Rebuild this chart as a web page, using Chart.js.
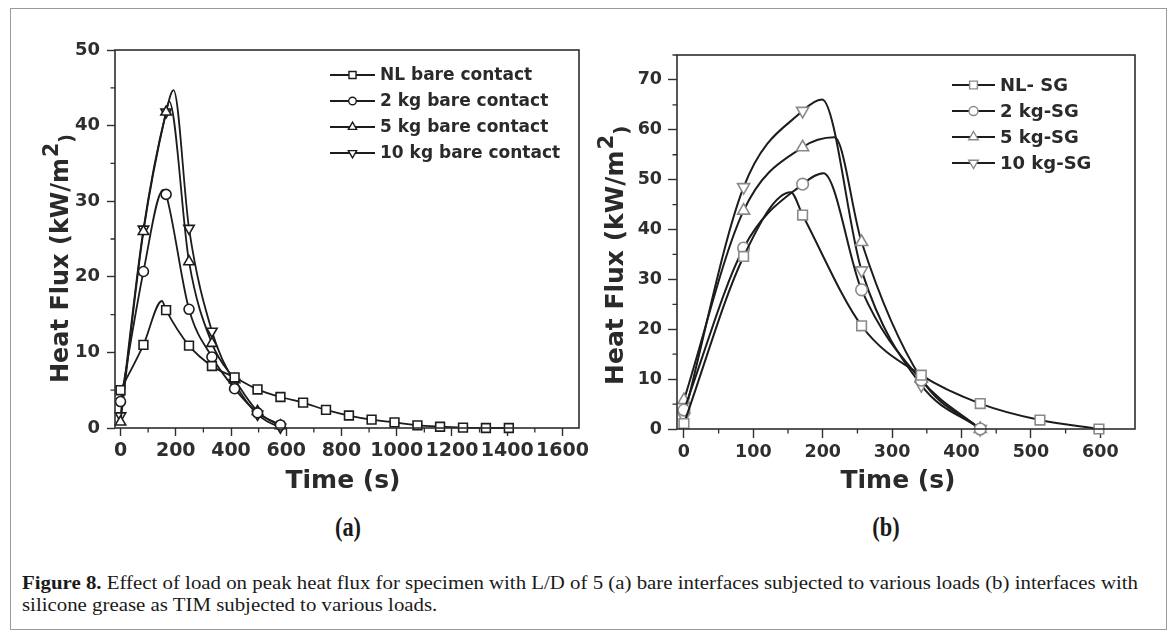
<!DOCTYPE html>
<html><head><meta charset="utf-8">
<script src="https://cdn.jsdelivr.net/npm/chart.js@4.4.0/dist/chart.umd.min.js"></script>
<style>
html,body{margin:0;padding:0;background:#fff;overflow:hidden;}
#fig{position:relative;width:1173px;height:636px;overflow:hidden;background:#fff;}
#frame{position:absolute;left:10px;top:8px;width:1157px;height:622px;border:1px solid #9a9a9a;box-sizing:border-box;pointer-events:none;}
#ca{position:absolute;left:0;top:0;}
#cb{position:absolute;left:590px;top:0;}
.plab{position:absolute;top:511px;width:80px;text-align:center;font-family:"Liberation Serif",serif;font-weight:bold;font-size:28px;line-height:32px;color:#1a1a1a;transform:scaleX(0.8);}
.cap{position:absolute;left:22px;white-space:nowrap;font-family:"Liberation Serif",serif;font-size:19px;line-height:22px;color:#1a1a1a;transform-origin:0 50%;}
</style>
</head><body>
<div id="fig">
<canvas id="ca" width="600" height="510"></canvas>
<canvas id="cb" width="575" height="510"></canvas>
<div class="plab" style="left:308px">(a)</div>
<div class="plab" style="left:846px">(b)</div>
<div class="cap" id="cap1" style="top:572px"><b>Figure 8.</b> Effect of load on peak heat flux for specimen with L/D of 5 (a) bare interfaces subjected to various loads (b) interfaces with</div>
<div class="cap" id="cap2" style="top:594px">silicone grease as TIM subjected to various loads.</div>
<div id="frame"></div>
</div>
<script>
// ---------- Panel (a): bare contact ----------
const timeA = [0,83,165,248,331,413,496,579,661,744,827,909,992,1075,1157,1240,1323,1406];
const nlBare  = [5.0,11.0,15.6,10.9,8.2,6.7,5.1,4.1,3.35,2.4,1.65,1.1,0.75,0.35,0.17,0.05,0,0];
const kg2Bare = [3.5,20.7,30.9,15.7,9.4,5.2,2.0,0.4];
const kg5Bare = [0.8,26.0,41.8,22.0,11.2,6.4,2.2,0.3];
const kg10Bare= [1.6,26.3,41.8,26.4,12.8,6.0,1.8,0.1];
// unmarked points read on the curves (peaks, line ends)
const nlBareExtra  = [[150,16.8]];
const kg2BareExtra = [[155,31.5],[600,0]];
const kg5BareExtra = [[176,43.2],[600,0]];
const kg10BareExtra= [[192,44.7],[592,0]];
const labelsA = ["NL bare contact","2 kg bare contact","5 kg bare contact","10 kg bare contact"];
const xTicksA = [0,200,400,600,800,1000,1200,1400,1600];
const xMinorA = [100,300,500,700,900,1100,1300,1500];
const yTicksA = [0,10,20,30,40,50];
const yMinorA = [5,15,25,35,45];

// ---------- Panel (b): silicone grease ----------
const timeB = [0,86,171,256,342,427,513,598];
const nlSG   = [1.1,34.6,42.9,20.7,10.8,5.1,1.8,0];
const kg2SG  = [3.8,36.3,49.1,27.9,9.8,0];
const kg5SG  = [5.8,43.8,56.5,37.5,10.1,0];
const kg10SG = [2.5,48.5,63.8,31.8,8.8,0];
const nlSGExtra   = [[154,47.5]];
const kg2SGExtra  = [[201,51.3]];
const kg5SGExtra  = [[217,58.5]];
const kg10SGExtra = [[199,66.1]];
const labelsB = ["NL- SG","2 kg-SG","5 kg-SG","10 kg-SG"];
const xTicksB = [0,100,200,300,400,500,600];
const xMinorB = [50,150,250,350,450,550];
const yTicksB = [0,10,20,30,40,50,60,70];
const yMinorB = [5,15,25,35,45,55,65,75];

function build(times, vals, extra){
  const pts = vals.map((v,i)=>({x:times[i], y:v, m:true}));
  extra.forEach(e=>pts.push({x:e[0], y:e[1], m:false}));
  pts.sort((a,b)=>a.x-b.x);
  return pts;
}
const styles = [
  {ps:'rect', rot:0},
  {ps:'circle', rot:0},
  {ps:'triangle', rot:0},
  {ps:'triangle', rot:180}
];
const radA = [6.2,5,6,6];
const radB = [6.8,5.8,7,7];

function mkDatasets(series, labels, rad, mColor, lw){
  return series.map((s,i)=>({
    label: labels[i],
    data: s,
    borderColor:'#1c1c1c',
    borderWidth: lw,
    cubicInterpolationMode:'monotone',
    fill:false,
    clip:false,
    pointStyle: styles[i].ps,
    pointRotation: styles[i].rot,
    pointRadius: c => (c.raw && c.raw.m) ? rad[i] : 0,
    pointBorderColor: mColor,
    pointBackgroundColor:'#ffffff',
    pointBorderWidth: 1.6
  }));
}

const decor = {
  id:'decor',
  afterDraw(chart, args, o){
    const ctx = chart.ctx, ca = chart.chartArea;
    const xs = chart.scales.x, ys = chart.scales.y;
    ctx.save();
    ctx.strokeStyle = '#2e2e2e'; ctx.lineWidth = 1.6;
    ctx.strokeRect(ca.left, ca.top, ca.right-ca.left, ca.bottom-ca.top);
    ctx.lineWidth = 1.3; ctx.beginPath();
    o.xMinor.forEach(v=>{const p=xs.getPixelForValue(v); ctx.moveTo(p,ca.bottom); ctx.lineTo(p,ca.bottom+4.5);});
    o.yMinor.forEach(v=>{const p=ys.getPixelForValue(v); ctx.moveTo(ca.left,p); ctx.lineTo(ca.left-4.5,p);});
    ctx.stroke();
    // y title
    const yt = o.yTitle;
    ctx.fillStyle = '#2a2a2a';
    ctx.translate(yt.x, yt.y); ctx.rotate(-Math.PI/2);
    ctx.textAlign='left'; ctx.textBaseline='alphabetic';
    ctx.font = 'bold '+yt.size+'px "DejaVu Sans"';
    const main = 'Heat Flux (kW/m';
    ctx.fillText(main,0,0);
    let w = ctx.measureText(main).width;
    ctx.font = 'bold '+(yt.size*0.85)+'px "DejaVu Sans"';
    ctx.fillText('2', w+1, -yt.size*0.42);
    w += ctx.measureText('2').width+1;
    ctx.font = 'bold '+(yt.size*0.8)+'px "DejaVu Sans"';
    ctx.fillText(')', w, yt.size*0.2);
    ctx.setTransform(1,0,0,1,0,0);
    // x title
    const xt = o.xTitle;
    ctx.font = 'bold '+xt.size+'px "DejaVu Sans"';
    ctx.textAlign='center'; ctx.textBaseline='alphabetic';
    ctx.fillText('Time (s)', xt.x, xt.y);
    // legend
    const lg = o.legend;
    chart.data.datasets.forEach((ds,i)=>{
      const y = lg.y + i*lg.row;
      ctx.strokeStyle='#1c1c1c'; ctx.lineWidth=1.8;
      ctx.beginPath(); ctx.moveTo(lg.x0,y); ctx.lineTo(lg.x1,y); ctx.stroke();
      ctx.fillStyle='#ffffff'; ctx.strokeStyle=lg.mColor; ctx.lineWidth=1.4;
      Chart.helpers.drawPoint(ctx,{pointStyle:styles[i].ps, rotation:styles[i].rot, radius:lg.r[i], borderWidth:1.4},(lg.x0+lg.x1)/2,y);
      ctx.fillStyle='#2a2a2a';
      ctx.font='bold '+lg.size+'px "DejaVu Sans"';
      ctx.textAlign='left'; ctx.textBaseline='middle';
      ctx.fillText(ds.label, lg.tx, y+1);
    });
    ctx.restore();
  }
};

function mkChart(id, datasets, cfg){
  return new Chart(document.getElementById(id), {
    type:'line',
    data:{datasets},
    plugins:[decor],
    options:{
      responsive:false, animation:false, events:[],
      layout:{autoPadding:false, padding:cfg.padding},
      plugins:{legend:{display:false}, tooltip:{enabled:false}, decor:cfg.decor},
      scales:{
        x:{type:'linear', min:cfg.xmin, max:cfg.xmax,
           afterBuildTicks: s=>{ s.ticks = cfg.xTicks.map(v=>({value:v})); },
           afterFit: s=>{ s.height = cfg.xh; },
           border:{display:false},
           grid:{display:true, drawOnChartArea:false, drawTicks:true, tickLength:cfg.tl, tickColor:'#2e2e2e', tickWidth:1.4},
           ticks:{autoSkip:false, maxRotation:0, minRotation:0, padding:4, color:'#2e2e2e',
                  font:{family:'DejaVu Sans', weight:'bold', size:cfg.txf}, callback:v=>String(v)}},
        y:{type:'linear', min:cfg.ymin, max:cfg.ymax,
           afterBuildTicks: s=>{ s.ticks = cfg.yTicks.map(v=>({value:v})); },
           afterFit: s=>{ s.width = cfg.yw; },
           border:{display:false},
           grid:{display:true, drawOnChartArea:false, drawTicks:true, tickLength:cfg.tl, tickColor:'#2e2e2e', tickWidth:1.4},
           ticks:{autoSkip:false, padding:cfg.typ, color:'#2e2e2e',
                  font:{family:'DejaVu Sans', weight:'bold', size:cfg.tf}, callback:v=>String(v)}}
      }
    }
  });
}

const seriesA = [build(timeA,nlBare,nlBareExtra), build(timeA.slice(0,kg2Bare.length),kg2Bare,kg2BareExtra),
                 build(timeA.slice(0,kg5Bare.length),kg5Bare,kg5BareExtra), build(timeA.slice(0,kg10Bare.length),kg10Bare,kg10BareExtra)];
const seriesB = [build(timeB,nlSG,nlSGExtra), build(timeB.slice(0,kg2SG.length),kg2SG,kg2SGExtra),
                 build(timeB.slice(0,kg5SG.length),kg5SG,kg5SGExtra), build(timeB.slice(0,kg10SG.length),kg10SG,kg10SGExtra)];

mkChart('ca', mkDatasets(seriesA, labelsA, radA, '#1c1c1c', 1.8), {
  padding:{left:0, top:50, right:21, bottom:0}, xh:82, yw:115,
  xmin:-20, xmax:1660, ymin:0, ymax:50, xTicks:xTicksA, yTicks:yTicksA, tl:8, tf:18, txf:19, typ:7,
  decor:{xMinor:xMinorA, yMinor:yMinorA,
         yTitle:{x:68, y:383, size:24}, xTitle:{x:343, y:488, size:25},
         legend:{x0:330, x1:375, tx:380, y:75, row:26, size:17, mColor:'#1c1c1c', r:[5,3.8,4.8,4.8]}}
});
mkChart('cb', mkDatasets(seriesB, labelsB, radB, '#8a8a8a', 2.0), {
  padding:{left:0, top:55, right:30, bottom:0}, xh:81, yw:87,
  xmin:-10, xmax:650, ymin:0, ymax:75, xTicks:xTicksB, yTicks:yTicksB, tl:9, tf:17.5, txf:17.5, typ:6,
  decor:{xMinor:xMinorB, yMinor:yMinorB,
         yTitle:{x:33, y:385, size:25}, xTitle:{x:308, y:488, size:25},
         legend:{x0:362, x1:405, tx:410, y:85, row:26, size:18, mColor:'#8a8a8a', r:[5.5,4.5,5.5,5.5]}}
});

// caption fit
const c1 = document.getElementById('cap1'), c2 = document.getElementById('cap2');
const k = 1116 / c1.getBoundingClientRect().width;
c1.style.transform = 'scaleX('+k+')';
c2.style.transform = 'scaleX('+k+')';
</script>
</body></html>
